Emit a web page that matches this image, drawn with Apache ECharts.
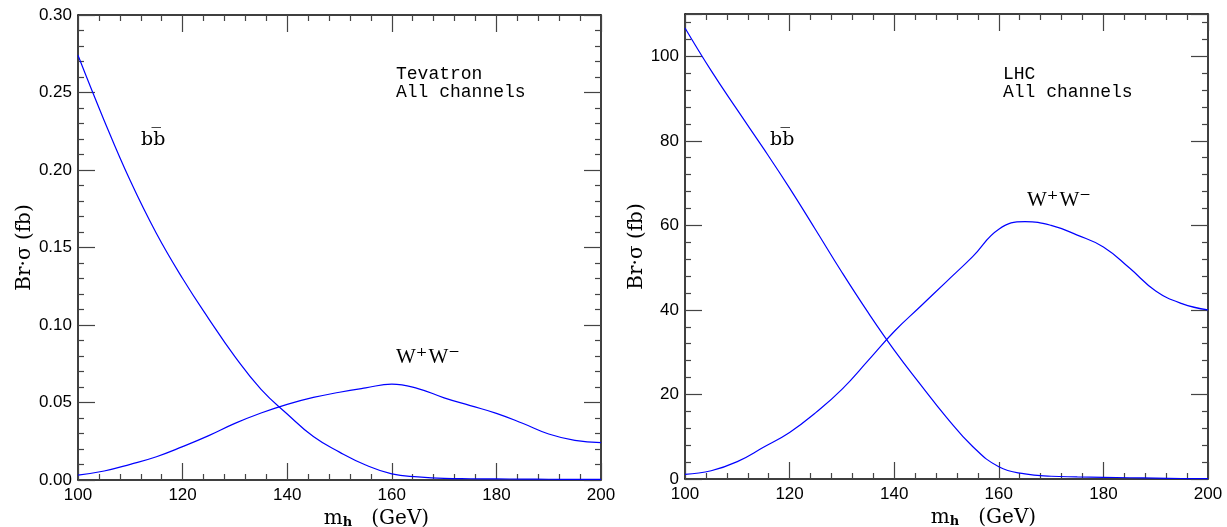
<!DOCTYPE html>
<html>
<head>
<meta charset="utf-8">
<script src="https://cdn.jsdelivr.net/npm/echarts@6/dist/echarts.min.js"></script>
<style>
  html, body { margin: 0; padding: 0; background: #fff; }
  #main { width: 1227px; height: 527px; }
</style>
</head>
<body>
<div id="main"></div>
<script>
// Higgs mass points (GeV)
const masses = [100, 105, 110, 115, 120, 125, 130, 135, 140, 145, 150,
                155, 160, 165, 170, 175, 180, 185, 190, 195, 200];
// Tevatron, Br*sigma (fb)
const tevBB = [0.274, 0.232, 0.193, 0.159, 0.130, 0.104, 0.0796, 0.0585, 0.0426, 0.028, 0.018,
               0.0097, 0.004, 0.002, 0.001, 0.0008, 0.0007, 0.0006, 0.0005, 0.0004, 0.0004];
const tevWW = [0.0032, 0.0058, 0.0101, 0.015, 0.0215, 0.0286, 0.0365, 0.0432, 0.0488, 0.0533, 0.0566,
               0.0594, 0.0619, 0.059, 0.053, 0.048, 0.043, 0.0366, 0.0297, 0.0256, 0.0241];
// LHC, Br*sigma (fb)
const lhcBB = [106.7, 96.6, 87.3, 78.2, 68.8, 58.9, 48.9, 39.4, 30.5, 22.4, 14.6,
               7.7, 2.9, 1.2, 0.65, 0.5, 0.4, 0.3, 0.2, 0.12, 0.08];
const lhcWW = [1.1, 1.95, 4.1, 7.5, 11.0, 15.7, 21.2, 28.0, 34.9, 40.8, 46.7,
               52.6, 59.1, 60.9, 60.0, 57.7, 54.9, 49.9, 44.5, 41.5, 40.0];

function pairs(xs, ys) {
    return xs.map(function (x, i) { return [x, ys[i]]; });
}

const serif = 'DejaVu Serif';
const tickFont = 'Liberation Sans';

function xAxes(grid) {
    let base = {
        gridIndex: grid, type: 'value', min: 100, max: 200, interval: 20,
        axisLine: {show: true, onZero: false, lineStyle: {color: '#000', width: 1.5}},
        axisTick: {show: true, inside: true, length: 17, lineStyle: {color: '#444', width: 1.2}},
        minorTick: {show: true, splitNumber: 5, length: 6, lineStyle: {color: '#444', width: 1.2}},
        splitLine: {show: false}
    };
    return [
        Object.assign({}, base, {
            position: 'bottom',
            axisLabel: {color: '#000', fontFamily: tickFont, fontSize: 17, margin: 7},
            name: '{m|m}{h|h}{g|   (GeV)}',
            nameLocation: 'middle', nameGap: 22,
            nameTextStyle: {
                padding: [0, 0, 0, 74],
                rich: {
                    m: {fontFamily: serif, fontSize: 20, color: '#000'},
                    h: {fontFamily: serif, fontSize: 13, fontWeight: 'bold', color: '#000', padding: [8, 0, 0, 0]},
                    g: {fontFamily: serif, fontSize: 20, color: '#000'}
                }
            }
        }),
        Object.assign({}, base, {position: 'top', axisLabel: {show: false}})
    ];
}

function yAxes(grid, max, interval, fmt) {
    let base = {
        gridIndex: grid, type: 'value', min: 0, max: max, interval: interval,
        axisLine: {show: true, onZero: false, lineStyle: {color: '#000', width: 1.5}},
        axisTick: {show: true, inside: true, length: 17, lineStyle: {color: '#444', width: 1.2}},
        minorTick: {show: true, splitNumber: 5, length: 6, lineStyle: {color: '#444', width: 1.2}},
        splitLine: {show: false}
    };
    return [
        Object.assign({}, base, {
            position: 'left',
            axisLabel: {color: '#000', fontFamily: tickFont, fontSize: 17, margin: 6,
                        formatter: fmt, showMaxLabel: max !== 110},
            name: 'Br·σ (fb)',
            nameLocation: 'middle', nameGap: 37,
            nameTextStyle: {fontFamily: serif, fontSize: 20, color: '#000'}
        }),
        Object.assign({}, base, {position: 'right', axisLabel: {show: false}})
    ];
}

function line(xi, yi, data) {
    return {
        type: 'line', xAxisIndex: xi, yAxisIndex: yi,
        data: data, smooth: 0.45, showSymbol: false, animation: false,
        lineStyle: {color: '#0000ff', width: 1.2}
    };
}

function label(text, left, top, font, size) {
    return {
        type: 'text', left: left, top: top,
        style: {text: text, fontFamily: font, fontSize: size, fill: '#000', lineHeight: size}
    };
}

function wwLabel(left, top) {
    return {
        type: 'text', left: left, top: top,
        style: {
            text: '{w|W}{s|\u207A}{w|W}{s|\u207B}',
            fill: '#000',
            rich: {
                w: {fontFamily: 'Liberation Serif', fontSize: 21, lineHeight: 22},
                s: {fontFamily: serif, fontSize: 22, lineHeight: 22, padding: [0, 1, 0, 0]}
            }
        }
    };
}

let myChart = echarts.init(document.getElementById('main'));
myChart.setOption({
    animation: false,
    grid: [
        {left: 78, top: 15, width: 523, height: 465, outerBoundsMode: 'none'},
        {left: 685, top: 14, width: 523, height: 465, outerBoundsMode: 'none'}
    ],
    xAxis: xAxes(0).concat(xAxes(1)),
    yAxis: yAxes(0, 0.3, 0.05, function (v) { return v.toFixed(2); })
        .concat(yAxes(1, 110, 20, function (v) { return String(v); })),
    series: [
        line(0, 0, pairs(masses, tevBB)),
        line(0, 0, pairs(masses, tevWW)),
        line(2, 2, pairs(masses, lhcBB)),
        line(2, 2, pairs(masses, lhcWW))
    ],
    graphic: [
        label('Tevatron\nAll channels', 396, 65, 'Liberation Mono', 18),
        label('LHC\nAll channels', 1003, 65, 'Liberation Mono', 18),
        label('bb\u0305', 141, 131, serif, 19),
        label('bb\u0305', 770, 131, serif, 19),
        wwLabel(396, 346),
        wwLabel(1027, 189)
    ]
});
</script>
</body>
</html>
